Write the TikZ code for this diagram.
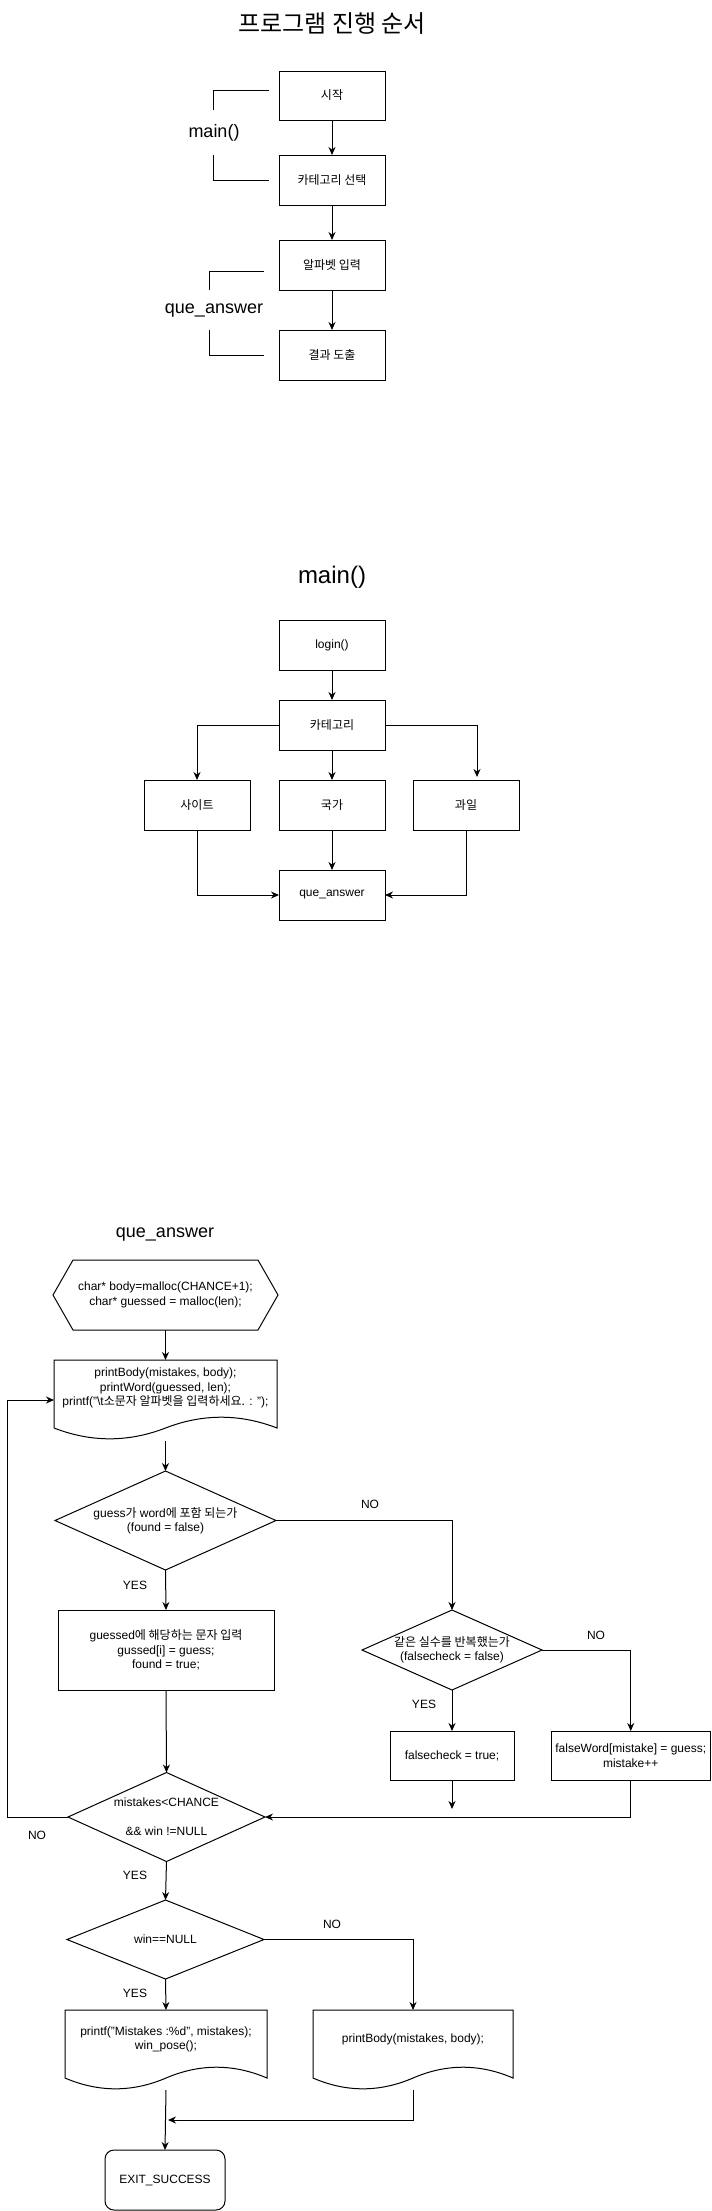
\documentclass[tikz,border=0pt]{standalone}
\usepackage{fontspec}
\setmainfont{Liberation Sans}
\newfontfamily\kr{Noto Sans CJK KR}
\usetikzlibrary{arrows.meta,calc}
\newcommand\mydoc[4]{%
  \draw (#1,#2) -- (#1+#3,#2) -- (#1+#3,#2+0.85*#4)
    .. controls (#1+0.8333*#3,#2+0.67*#4) and (#1+0.6667*#3,#2+0.67*#4) .. (#1+0.5*#3,#2+0.85*#4)
    .. controls (#1+0.3333*#3,#2+1.03*#4) and (#1+0.1667*#3,#2+1.03*#4) .. (#1,#2+0.85*#4) -- cycle;}
\begin{document}
\begin{tikzpicture}[x=1pt,y=-1pt,line width=1pt,
  base/.style={font=\fontsize{12}{14.5}\selectfont, align=center, inner sep=0pt, outer sep=0pt},
  box/.style={base, draw, rectangle},
  area/.style={base, rectangle, draw=none},
  lbl/.style={font=\fontsize{12}{14.5}\selectfont, inner sep=0pt},
  big/.style={font=\fontsize{24}{28}\selectfont, inner sep=0pt},
  mid/.style={font=\fontsize{18}{22}\selectfont, inner sep=0pt},
  arr/.style={-{Stealth[length=8pt,width=7pt]}},
]
\useasboundingbox[fill=white] (0,0) rectangle (712,2211);

% ---------- section 1 ----------
\node[inner sep=0pt, font=\fontsize{24}{28}\selectfont\kr] (title1) at (332,24) {프로그램 진행 순서};
\node[box, minimum width=106pt, minimum height=49pt] (s1) at (332,95.5) {\kr 시작};
\node[box, minimum width=106pt, minimum height=50pt] (s2) at (332,180) {\kr 카테고리 선택};
\node[box, minimum width=106pt, minimum height=50pt] (s3) at (332,265) {\kr 알파벳 입력};
\node[box, minimum width=106pt, minimum height=50pt] (s4) at (332,355) {\kr 결과 도출};
\draw[arr] (s1) -- (s2);
\draw[arr] (s2) -- (s3);
\draw[arr] (s3) -- (s4);
\coordinate (b1a) at (269,90); \coordinate (b1b) at (213,110);
\coordinate (b1c) at (213,155); \coordinate (b1d) at (269,180);
\draw (b1a) -| (b1b);
\draw (b1c) |- (b1d);
\node[mid] (lblmain) at (214,133) {main()};
\coordinate (b2a) at (264,271); \coordinate (b2b) at (209,290);
\coordinate (b2c) at (209,330); \coordinate (b2d) at (264,355);
\draw (b2a) -| (b2b);
\draw (b2c) |- (b2d);
\node[mid] (lblqa) at (214,311) {que\_answer};

% ---------- section 2 ----------
\node[big] (title2) at (332,577) {main()};
\node[box, minimum width=106pt, minimum height=50pt] (login) at (332,645) {login()};
\node[box, minimum width=106pt, minimum height=50pt] (cat) at (332,725) {\kr 카테고리};
\node[box, minimum width=106pt, minimum height=50pt] (site) at (197,805) {\kr 사이트};
\node[box, minimum width=106pt, minimum height=50pt] (nation) at (332,805) {\kr 국가};
\node[box, minimum width=106pt, minimum height=50pt] (fruit) at (466,805) {\kr 과일};
\node[box, minimum width=106pt, minimum height=50pt] (qa) at (332,895) {que\_answer};
\draw[arr] (login) -- (cat);
\draw[arr] (cat.west) -| (site.north);
\draw[arr] (cat) -- (nation);
\draw[arr] (cat.east) -| ([xshift=11pt,yshift=3pt]fruit.north);
\draw[arr] (nation) -- (qa);
\draw[arr] (site.south) |- (qa.west);
\draw[arr] (fruit.south) |- (qa.east);

% ---------- section 3 ----------
\node[mid] (title3) at (165,1235) {que\_answer};
\node[area, minimum width=225pt, minimum height=70pt] (hx) at (165.5,1295) {char* body=malloc(CHANCE+1);\\char* guessed = malloc(len);};
\draw (53,1295) -- (73,1260) -- (258,1260) -- (278,1295) -- (258,1330) -- (73,1330) -- cycle;

\mydoc{54}{1360}{223}{80}
\node[area, minimum width=223pt, minimum height=80pt] (d1) at (165.5,1400) {};
\node[base] (d1t) at (165.5,1388) {printBody(mistakes, body);\\printWord(guessed, len);\\printf("\textbackslash t{\kr 소문자 알파벳을 입력하세요.} : ");};

\node[area, minimum width=221pt, minimum height=99pt] (dc1) at (165.5,1520.5) {guess{\kr 가} word{\kr 에 포함 되는가}\\(found = false)};
\draw (dc1.west) -- (dc1.north) -- (dc1.east) -- (dc1.south) -- cycle;

\node[box, minimum width=216pt, minimum height=80pt] (gs) at (166,1650) {guessed{\kr 에 해당하는 문자 입력}\\gussed[i] = guess;\\found = true;};

\node[area, minimum width=180pt, minimum height=80pt] (dc2) at (452,1650) {{\kr 같은 실수를 반복했는가}\\(falsecheck = false)};
\draw (dc2.west) -- (dc2.north) -- (dc2.east) -- (dc2.south) -- cycle;

\node[box, minimum width=124pt, minimum height=49pt] (fc) at (452,1755.5) {falsecheck = true;};
\node[box, minimum width=159.5pt, minimum height=49pt] (fw) at (630.75,1755.5) {falseWord[mistake] = guess;\\mistake++};

\node[area, minimum width=197pt, minimum height=89pt] (dc3) at (166.5,1817) {mistakes<CHANCE\\[14.5pt]\&\& win !=NULL};
\draw (dc3.west) -- (dc3.north) -- (dc3.east) -- (dc3.south) -- cycle;

\node[area, minimum width=197pt, minimum height=79pt] (dc4) at (165.5,1939.5) {win==NULL};
\draw (dc4.west) -- (dc4.north) -- (dc4.east) -- (dc4.south) -- cycle;

\mydoc{65}{2010}{202}{80}
\node[area, minimum width=202pt, minimum height=80pt] (d2) at (166,2050) {};
\node[base] (d2t) at (166,2039.5) {printf("Mistakes :\%d", mistakes);\\win\_pose();};
\mydoc{313}{2010}{200}{80}
\node[area, minimum width=200pt, minimum height=80pt] (d3) at (413,2050) {};
\node[base] (d3t) at (413,2039) {printBody(mistakes, body);};

\node[box, rounded corners=9pt, minimum width=120pt, minimum height=60pt] (exit) at (165,2180) {EXIT\_SUCCESS};

% connectors
\draw[arr] (hx.south) -- (d1.north);
\draw[arr] ([yshift=-1pt]d1.south) -- (dc1.north);
\draw[arr] (dc1.south) -- (gs.north);
\draw[arr] (dc1.east) -| (dc2.north);
\draw[arr] (dc2.east) -| (fw.north);
\draw[arr] (dc2.south) -- (fc.north);
\draw[arr] (gs.south) -- (dc3.north);
\coordinate (fcend) at (452,1809);
\draw[arr] (fc.south) -- (fcend);
\draw[arr] (fw.south) |- (dc3.east);
\coordinate (loop) at (7,1600);
\draw[arr] (dc3.west) -- (dc3.west -| loop) |- (d1.west);
\draw[arr] (dc3.south) -- (dc4.north);
\draw[arr] (dc4.east) -| (d3.north);
\draw[arr] (dc4.south) -- (d2.north);
\draw[arr] (d2.south) -- (exit.north);
\coordinate (join) at (168,2120);
\draw[arr] (d3.south) |- (join);

% labels
\node[lbl] (no1) at (370,1504) {NO};
\node[lbl] (yes1) at (135,1585) {YES};
\node[lbl] (no2) at (596,1635) {NO};
\node[lbl] (yes2) at (424,1704) {YES};
\node[lbl] (no3) at (37,1835) {NO};
\node[lbl] (yes3) at (135,1875) {YES};
\node[lbl] (no4) at (332,1924) {NO};
\node[lbl] (yes4) at (135,1993) {YES};
\end{tikzpicture}
\end{document}
